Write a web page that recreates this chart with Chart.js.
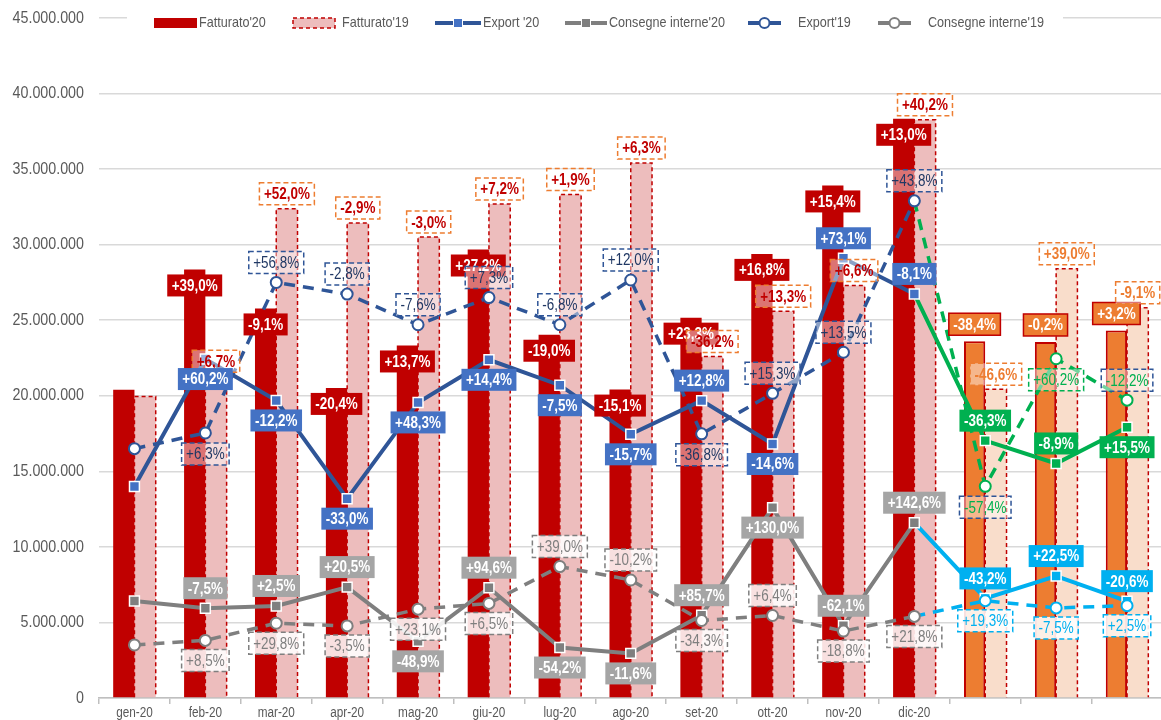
<!DOCTYPE html>
<html lang="it">
<head>
<meta charset="UTF-8">
<title>Fatturato, export e consegne interne</title>
<script src="https://cdn.jsdelivr.net/npm/chart.js"></script>
<style>
    html, body { margin: 0; padding: 0; background: #ffffff; overflow: hidden; }
    .chart-container { position: relative; width: 1171px; height: 720px; }
</style>
</head>
<body>
<div class="chart-container"><canvas id="salesChart"></canvas></div>
<script>
    // categories (the last three months have no tick label)
    const months = ['gen-20', 'feb-20', 'mar-20', 'apr-20', 'mag-20', 'giu-20', 'lug-20', 'ago-20', 'set-20', 'ott-20', 'nov-20', 'dic-20', '', '', ''];
    const yTicks = [0, 5000000, 10000000, 15000000, 20000000, 25000000, 30000000, 35000000, 40000000, 45000000];

    // values
    const fatturato20 = [20400000, 28360000, 25780000, 20520000, 23330000, 29680000, 24040000, 20410000, 25170000, 29390000, 33920000, 38330000, 23610000, 23560000, 24320000];
    const fatturato19 = [19960000, 21300000, 32380000, 31440000, 30500000, 32690000, 33320000, 35410000, 22600000, 25600000, 27290000, 38260000, 20430000, 28400000, 25820000];
    const export20 = [14000000, 22430000, 19690000, 13190000, 19560000, 22380000, 20700000, 17450000, 19680000, 16810000, 29100000, 26740000, 17030000, 15520000, 17920000];
    const export19 = [16500000, 17540000, 27500000, 26730000, 24700000, 26500000, 24700000, 27660000, 17480000, 20160000, 22880000, 32900000, 14010000, 22450000, 19710000];
    const consegne20 = [6420000, 5940000, 6090000, 7340000, 3750000, 7300000, 3340000, 2950000, 5480000, 12600000, 4780000, 11600000, 6590000, 8070000, 6410000];
    const consegne19 = [3510000, 3810000, 4950000, 4770000, 5880000, 6260000, 8700000, 7810000, 5130000, 5460000, 4430000, 5400000, 6440000, 5960000, 6110000];

    // percentage labels
    const fatturato20Pct = ['', '+39,0%', '-9,1%', '-20,4%', '+13,7%', '+27,2%', '-19,0%', '-15,1%', '+23,3%', '+16,8%', '+15,4%', '+13,0%', '-38,4%', '-0,2%', '+3,2%'];
    const fatturato19Pct = ['', '+6,7%', '+52,0%', '-2,9%', '-3,0%', '+7,2%', '+1,9%', '+6,3%', '-36,2%', '+13,3%', '+6,6%', '+40,2%', '-46,6%', '+39,0%', '-9,1%'];
    const export20Pct = ['', '+60,2%', '-12,2%', '-33,0%', '+48,3%', '+14,4%', '-7,5%', '-15,7%', '+12,8%', '-14,6%', '+73,1%', '-8,1%', '-36,3%', '-8,9%', '+15,5%'];
    const export19Pct = ['', '+6,3%', '+56,8%', '-2,8%', '-7,6%', '+7,3%', '-6,8%', '+12,0%', '-36,8%', '+15,3%', '+13,5%', '+43,8%', '-57,4%', '+60,2%', '-12,2%'];
    const consegne20Pct = ['', '-7,5%', '+2,5%', '+20,5%', '-48,9%', '+94,6%', '-54,2%', '-11,6%', '+85,7%', '+130,0%', '-62,1%', '+142,6%', '-43,2%', '+22,5%', '-20,6%'];
    const consegne19Pct = ['', '+8,5%', '+29,8%', '-3,5%', '+23,1%', '+6,5%', '+39,0%', '-10,2%', '-34,3%', '+6,4%', '-18,8%', '+21,8%', '+19,3%', '-7,5%', '+2,5%'];

    const FONT = '"Liberation Sans", Arial, sans-serif';
    const NARROW = 0.84; // horizontal squeeze to mimic Arial Narrow
    const DARK_RED = '#C00000';
    const PINK = '#EDBDBD';
    const ORANGE = '#ED7D31';
    const PEACH = '#F9DDCB';
    const BLUE_LINE = '#2F5597';
    const BLUE = '#4472C4';
    const NAVY = '#203864';
    const GRAY = '#7F7F7F';
    const GRAY_BOX = '#A5A5A5';
    const GREEN = '#00B050';
    const LIGHT_BLUE = '#00B0F0';
    const TEXT = '#595959';

    const isNew = i => i >= 12; // months after dic-20

    // label placement: a = above the point, b = below
    const placeExp20 = 'xbbbbbbbabaaaab';
    const placeExp19 = 'xbaaaaaabaaabba';
    const placeCon20 = 'xaaababbabaaaaa';
    const placeCon19 = 'xbbbbbaababbbbb';

    // narrow text: align 'left' | 'center' | 'right'
    function narrowText(ctx, text, x, y, font, color, align) {
        ctx.save();
        ctx.font = font;
        ctx.fillStyle = color;
        ctx.textBaseline = 'middle';
        ctx.textAlign = align;
        ctx.translate(x, y);
        ctx.scale(NARROW, 1);
        ctx.fillText(text, 0, 0);
        ctx.restore();
    }

    function drawBox(ctx, x, y, text, st) {
        const font = (st.bold ? 'bold ' : '') + '16px ' + FONT;
        ctx.save();
        ctx.font = font;
        const w = ctx.measureText(text).width * NARROW + 9;
        const h = 22;
        ctx.fillStyle = st.fill;
        ctx.fillRect(x - w / 2, y - h / 2, w, h);
        if (st.border) {
            ctx.setLineDash(st.dash ? [5, 3] : []);
            ctx.strokeStyle = st.border;
            ctx.lineWidth = 1.5;
            ctx.strokeRect(x - w / 2, y - h / 2, w, h);
        }
        ctx.restore();
        narrowText(ctx, text, x, y + 1, font, st.color, 'center');
    }

    const labelSets = [
        { ds: 0, texts: fatturato20Pct, off: i => isNew(i) ? -17 : 16,
          style: i => ({ fill: isNew(i) ? ORANGE : DARK_RED, border: isNew(i) ? DARK_RED : null, color: '#fff', bold: true }) },
        { ds: 1, texts: fatturato19Pct, off: () => -15,
          style: i => ({ fill: 'rgba(255,255,255,0.45)', border: ORANGE, dash: true, color: isNew(i) ? ORANGE : DARK_RED, bold: true }) },
        { ds: 2, texts: export20Pct, off: i => placeExp20[i] === 'a' ? -20 : 20,
          style: i => ({ fill: isNew(i) ? GREEN : BLUE, color: '#fff', bold: true }) },
        { ds: 3, texts: consegne20Pct, off: i => placeCon20[i] === 'a' ? -20 : 20,
          style: i => ({ fill: isNew(i) ? LIGHT_BLUE : GRAY_BOX, color: '#fff', bold: true }) },
        { ds: 4, texts: export19Pct, off: i => placeExp19[i] === 'a' ? -20 : 21,
          style: i => ({ fill: 'rgba(255,255,255,0.45)', border: i === 13 ? GREEN : BLUE_LINE, dash: true, color: isNew(i) ? GREEN : NAVY }) },
        { ds: 5, texts: consegne19Pct, off: i => placeCon19[i] === 'a' ? -20 : 20,
          style: i => ({ fill: 'rgba(255,255,255,0.88)', border: isNew(i) ? LIGHT_BLUE : GRAY, dash: true, color: isNew(i) ? LIGHT_BLUE : GRAY }) }
    ];

    // dashed outline for the '19 bars, right after they are drawn
    const dashedBars = {
        id: 'dashedBars',
        afterDatasetDraw(chart, args) {
            if (args.index !== 1) return;
            const ctx = chart.ctx;
            ctx.save();
            ctx.strokeStyle = DARK_RED;
            ctx.lineWidth = 1.5;
            ctx.setLineDash([4, 3]);
            args.meta.data.forEach(bar => {
                const l = bar.x - bar.width / 2, r = bar.x + bar.width / 2;
                ctx.beginPath();
                ctx.moveTo(l, bar.base);
                ctx.lineTo(l, bar.y);
                ctx.lineTo(r, bar.y);
                ctx.lineTo(r, bar.base);
                ctx.stroke();
            });
            ctx.restore();
        }
    };

    const pctLabels = {
        id: 'pctLabels',
        afterDatasetsDraw(chart) {
            const ctx = chart.ctx;
            labelSets.forEach(set => {
                chart.getDatasetMeta(set.ds).data.forEach((el, i) => {
                    if (!set.texts[i]) return;
                    drawBox(ctx, el.x, el.y + set.off(i), set.texts[i], set.style(i));
                });
            });
        }
    };

    // axis tick texts in narrow type
    const axisTexts = {
        id: 'axisTexts',
        afterDraw(chart) {
            const ctx = chart.ctx;
            const xs = chart.scales.x, ys = chart.scales.y;
            yTicks.forEach(v => {
                const t = String(v).replace(/\B(?=(\d{3})+(?!\d))/g, '.');
                narrowText(ctx, t, 84, ys.getPixelForValue(v), '17px ' + FONT, TEXT, 'right');
            });
            months.forEach((m, i) => {
                if (m) narrowText(ctx, m, xs.getPixelForValue(i), 713, '14px ' + FONT, TEXT, 'center');
            });
        }
    };

    // legend drawn over the top gridline, like the original
    const topLegend = {
        id: 'topLegend',
        afterDraw(chart) {
            const ctx = chart.ctx;
            const y = 23;
            const font = '15px ' + FONT;
            ctx.save();
            ctx.fillStyle = '#fff';
            ctx.fillRect(127, 8, 936, 30);

            // Fatturato'20
            ctx.fillStyle = DARK_RED;
            ctx.fillRect(154, 18, 43, 10);
            narrowText(ctx, "Fatturato'20", 199, y, font, TEXT, 'left');
            // Fatturato'19
            ctx.fillStyle = PINK;
            ctx.fillRect(293, 18, 42, 10);
            ctx.strokeStyle = DARK_RED;
            ctx.lineWidth = 1.5;
            ctx.setLineDash([4, 3]);
            ctx.strokeRect(293, 18, 42, 10);
            ctx.setLineDash([]);
            narrowText(ctx, "Fatturato'19", 342, y, font, TEXT, 'left');

            const lineItem = (x1, x2, color, marker, mColor, text, tx) => {
                ctx.strokeStyle = color;
                ctx.lineWidth = 4;
                ctx.beginPath();
                ctx.moveTo(x1, y);
                ctx.lineTo(x2, y);
                ctx.stroke();
                const mx = (x1 + x2) / 2;
                if (marker === 'rect') {
                    ctx.fillStyle = '#fff';
                    ctx.fillRect(mx - 5, y - 5, 10, 10);
                    ctx.fillStyle = mColor;
                    ctx.fillRect(mx - 4, y - 4, 8, 8);
                } else {
                    ctx.beginPath();
                    ctx.arc(mx, y, 5, 0, Math.PI * 2);
                    ctx.fillStyle = '#fff';
                    ctx.fill();
                    ctx.lineWidth = 2;
                    ctx.strokeStyle = mColor;
                    ctx.stroke();
                }
                narrowText(ctx, text, tx, y, font, TEXT, 'left');
            };
            lineItem(435, 481, BLUE_LINE, 'rect', BLUE, "Export '20", 483);
            lineItem(565, 607, GRAY, 'rect', GRAY, "Consegne interne'20", 609);
            lineItem(748, 781, BLUE_LINE, 'circle', BLUE_LINE, "Export'19", 798);
            lineItem(878, 911, GRAY, 'circle', GRAY, "Consegne interne'19", 928);
            ctx.restore();
        }
    };

    Chart.defaults.font.family = FONT;
    Chart.defaults.color = TEXT;

    const lineSet = (label, data, color, pointColor, newColor, dashed, pointStyle, order) => ({
        type: 'line',
        label: label,
        data: data,
        borderColor: color,
        borderWidth: dashed ? 3.5 : 4,
        borderDash: dashed ? [11, 8] : [],
        segment: { borderColor: c => c.p0DataIndex >= 11 ? newColor : color },
        tension: 0,
        fill: false,
        pointStyle: pointStyle,
        pointRadius: pointStyle === 'rect' ? 7 : 5.5,
        pointBackgroundColor: pointStyle === 'rect' ? months.map((_, i) => isNew(i) ? newColor : pointColor) : '#fff',
        pointBorderColor: pointStyle === 'rect' ? '#fff' : months.map((_, i) => isNew(i) ? newColor : pointColor),
        pointBorderWidth: pointStyle === 'rect' ? 1.5 : 2,
        order: order
    });

    const ctx = document.getElementById('salesChart').getContext('2d');
    const chart = new Chart(ctx, {
        type: 'bar',
        data: {
            labels: months,
            datasets: [
                {
                    label: "Fatturato'20",
                    data: fatturato20,
                    backgroundColor: months.map((_, i) => isNew(i) ? ORANGE : DARK_RED),
                    borderColor: DARK_RED,
                    borderWidth: c => isNew(c.dataIndex) ? { top: 2, left: 2, right: 2, bottom: 0 } : 0,
                    borderSkipped: 'bottom',
                    categoryPercentage: 0.6,
                    barPercentage: 1.0,
                    order: 5
                },
                {
                    label: "Fatturato'19",
                    data: fatturato19,
                    backgroundColor: months.map((_, i) => isNew(i) ? PEACH : PINK),
                    borderWidth: 0,
                    categoryPercentage: 0.6,
                    barPercentage: 1.0,
                    order: 6
                },
                lineSet("Export '20", export20, BLUE_LINE, BLUE, GREEN, false, 'rect', 3),
                lineSet("Consegne interne'20", consegne20, GRAY, GRAY, LIGHT_BLUE, false, 'rect', 4),
                lineSet("Export'19", export19, BLUE_LINE, BLUE_LINE, GREEN, true, 'circle', 1),
                lineSet("Consegne interne'19", consegne19, GRAY, GRAY, LIGHT_BLUE, true, 'circle', 2)
            ]
        },
        options: {
            responsive: true,
            maintainAspectRatio: false,
            animation: false,
            layout: { padding: { top: 18, left: 0, right: 0, bottom: 0 } },
            plugins: {
                legend: { display: false },
                tooltip: { enabled: false }
            },
            scales: {
                x: {
                    grid: { display: true, drawOnChartArea: false, drawTicks: true, tickLength: 6, color: '#BFBFBF', lineWidth: 1.5 },
                    border: { display: true, color: '#BFBFBF', width: 1.5 },
                    ticks: { display: false },
                    afterFit: s => { s.height = 22; }
                },
                y: {
                    min: 0,
                    max: 45000000,
                    ticks: { display: false, stepSize: 5000000 },
                    grid: { color: '#D9D9D9', lineWidth: 1.5, drawTicks: false },
                    border: { display: false },
                    afterFit: s => { s.width = 99; }
                }
            }
        },
        plugins: [dashedBars, pctLabels, axisTexts, topLegend]
    });
</script>
</body>
</html>
